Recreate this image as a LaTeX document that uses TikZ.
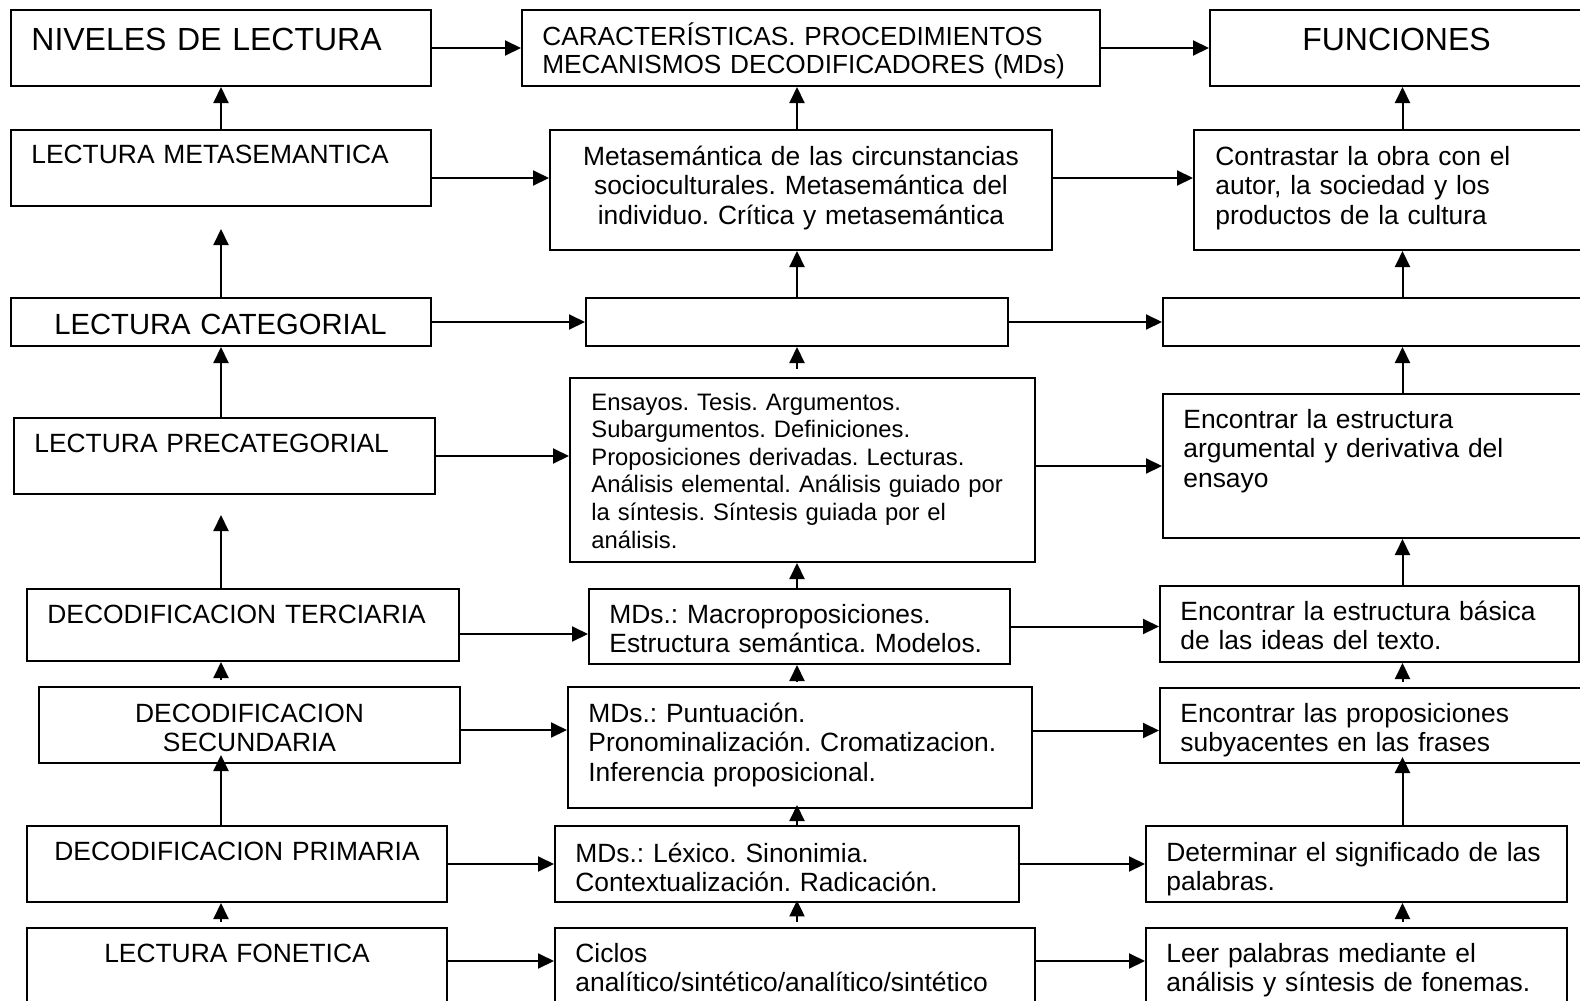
\documentclass[tikz,border=0pt]{standalone}
\usepackage{fontspec}
\setmainfont{Liberation Sans}
\usetikzlibrary{arrows.meta}
\frenchspacing

\begin{document}
\begin{tikzpicture}[x=0.5pt,y=-0.5pt,>={Triangle[length=8pt,width=7.5pt]},
	caja/.style={draw,line width=1pt,inner sep=0pt,anchor=north west},
	txt/.style={anchor=base west,inner sep=0pt,text width=10cm,align=left,font=\fontsize{13.2}{14.8}\selectfont},
	ctxt/.style={txt,anchor=base,align=center},
	flecha/.style={->,line width=1pt}]
	\useasboundingbox (0,0) rectangle (1580,1001);
	\clip (0,0) rectangle (1580,1001);
	\node[caja,minimum width=210pt,minimum height=38pt] (niveles) at (10,9) {};
	\node[txt,font=\fontsize{16}{18}\selectfont] (nivelestxt) at ([shift={(21,41)}]niveles.north west) {NIVELES DE LECTURA};
	\node[caja,minimum width=210pt,minimum height=38pt] (metasem) at (10,129) {};
	\node[txt] (metasemtxt) at ([shift={(21,34)}]metasem.north west) {LECTURA METASEMANTICA};
	\node[caja,minimum width=210pt,minimum height=24pt] (categ) at (10,297) {};
	\node[txt,font=\fontsize{14.6}{16}\selectfont] (categtxt) at ([shift={(44,37)}]categ.north west) {LECTURA CATEGORIAL};
	\node[caja,minimum width=210.5pt,minimum height=38pt] (precateg) at (13,417) {};
	\node[txt] (precategtxt) at ([shift={(21,35)}]precateg.north west) {LECTURA PRECATEGORIAL};
	\node[caja,minimum width=216pt,minimum height=36pt] (terciaria) at (26,588) {};
	\node[txt] (terciariatxt) at ([shift={(21,35)}]terciaria.north west) {DECODIFICACION TERCIARIA};
	\node[caja,minimum width=210.5pt,minimum height=38pt] (secundaria) at (38,686) {};
	\node[ctxt] (secundariatxt) at ([shift={(0,36)}]secundaria.north) {DECODIFICACION\\SECUNDARIA};
	\node[caja,minimum width=210pt,minimum height=38pt] (primaria) at (26,825) {};
	\node[txt] (primariatxt) at ([shift={(28,35)}]primaria.north west) {DECODIFICACION PRIMARIA};
	\node[caja,minimum width=210pt,minimum height=56pt] (fonetica) at (26,927) {};
	\node[ctxt] (foneticatxt) at ([shift={(0,35)}]fonetica.north) {LECTURA FONETICA};

	\node[caja,minimum width=289pt,minimum height=38pt] (carac) at (521,9) {};
	\node[txt,font=\fontsize{13.1}{14.2}\selectfont] (caractxt) at ([shift={(21,36)}]carac.north west) {CARACTERÍSTICAS. PROCEDIMIENTOS\\MECANISMOS DECODIFICADORES (MDs)};
	\node[caja,minimum width=251pt,minimum height=60pt] (mdmeta) at (549,129) {};
	\node[ctxt] (mdmetatxt) at ([shift={(0,36)}]mdmeta.north) {Metasemántica de las circunstancias\\socioculturales. Metasemántica del\\individuo. Crítica y metasemántica};
	\node[caja,minimum width=211pt,minimum height=24pt] (mdcateg) at (585,297) {};
	\node[caja,minimum width=232.5pt,minimum height=92pt] (mdprecat) at (569,377) {};
	\node[txt,font=\fontsize{11.9}{13.8}\selectfont] (mdprecattxt) at ([shift={(22,33)}]mdprecat.north west) {Ensayos. Tesis. Argumentos.\\Subargumentos. Definiciones.\\Proposiciones derivadas. Lecturas.\\Análisis elemental. Análisis guiado por\\la síntesis. Síntesis guiada por el\\análisis.};
	\node[caja,minimum width=210.5pt,minimum height=37.5pt] (mdterc) at (588,588) {};
	\node[txt] (mdterctxt) at ([shift={(21,35)}]mdterc.north west) {MDs.: Macroproposiciones.\\Estructura semántica. Modelos.};
	\node[caja,minimum width=232pt,minimum height=60.5pt] (mdsec) at (567,686) {};
	\node[txt] (mdsectxt) at ([shift={(21,36)}]mdsec.north west) {MDs.: Puntuación.\\Pronominalización. Cromatizacion.\\Inferencia proposicional.};
	\node[caja,minimum width=232pt,minimum height=38pt] (mdprim) at (554,825) {};
	\node[txt] (mdprimtxt) at ([shift={(21,37)}]mdprim.north west) {MDs.: Léxico. Sinonimia.\\Contextualización. Radicación.};
	\node[caja,minimum width=240pt,minimum height=56pt] (mdfon) at (554,927) {};
	\node[txt] (mdfontxt) at ([shift={(21,35)}]mdfon.north west) {Ciclos\\analítico/sintético/analítico/sintético};

	\node[caja,minimum width=192.5pt,minimum height=38pt] (funciones) at (1209,9) {};
	\node[ctxt,font=\fontsize{16}{18}\selectfont] (funcionestxt) at ([shift={(-6,41)}]funciones.north) {FUNCIONES};
	\node[caja,minimum width=205pt,minimum height=60pt] (fnmeta) at (1193,129) {};
	\node[txt] (fnmetatxt) at ([shift={(22,36)}]fnmeta.north west) {Contrastar la obra con el\\autor, la sociedad y los\\productos de la cultura};
	\node[caja,minimum width=220pt,minimum height=24pt] (fncateg) at (1162,297) {};
	\node[caja,minimum width=220pt,minimum height=72pt] (fnprecat) at (1162,393) {};
	\node[txt] (fnprecattxt) at ([shift={(21,35)}]fnprecat.north west) {Encontrar la estructura\\argumental y derivativa del\\ensayo};
	\node[caja,minimum width=209.5pt,minimum height=38pt] (fnterc) at (1159,585) {};
	\node[txt] (fnterctxt) at ([shift={(21,35)}]fnterc.north west) {Encontrar la estructura básica\\de las ideas del texto.};
	\node[caja,minimum width=221pt,minimum height=37.5pt] (fnsec) at (1159,687) {};
	\node[txt] (fnsectxt) at ([shift={(21,35)}]fnsec.north west) {Encontrar las proposiciones\\subyacentes en las frases};
	\node[caja,minimum width=210.5pt,minimum height=38pt] (fnprim) at (1145,825) {};
	\node[txt] (fnprimtxt) at ([shift={(21,36)}]fnprim.north west) {Determinar el significado de las\\palabras.};
	\node[caja,minimum width=210.5pt,minimum height=56pt] (fnfon) at (1145,927) {};
	\node[txt] (fnfontxt) at ([shift={(21,35)}]fnfon.north west) {Leer palabras mediante el\\análisis y síntesis de fonemas.};

	\draw[flecha] (metasem.north) -- (niveles.south);
	\draw[flecha,shorten >=11pt] (categ.north) -- (metasem.south);
	\draw[flecha] (precateg.north -| categ.south) -- (categ.south);
	\draw[flecha,shorten >=10pt] (terciaria.north -| categ.south) -- (precateg.south -| categ.south);
	\draw[flecha,shorten <=3pt] (secundaria.north -| categ.south) -- (terciaria.south -| categ.south);
	\draw[flecha,shorten >=-4.5pt] (primaria.north -| categ.south) -- (secundaria.south -| categ.south);
	\draw[flecha,shorten <=2.5pt] (fonetica.north -| categ.south) -- (primaria.south -| categ.south);

	\draw[flecha] (mdmeta.north -| mdcateg.south) -- (carac.south -| mdcateg.south);
	\draw[flecha] (mdcateg.north) -- (mdmeta.south -| mdcateg.south);
	\draw[flecha,shorten <=4pt] (mdprecat.north -| mdcateg.south) -- (mdcateg.south);
	\draw[flecha] (mdterc.north -| mdcateg.south) -- (mdprecat.south -| mdcateg.south);
	\draw[flecha,shorten <=2pt] (mdsec.north -| mdcateg.south) -- (mdterc.south -| mdcateg.south);
	\draw[flecha,shorten >=-2pt] (mdprim.north -| mdcateg.south) -- (mdsec.south -| mdcateg.south);
	\draw[flecha,shorten <=2.5pt,shorten >=-1.3pt] (mdfon.north -| mdcateg.south) -- (mdprim.south -| mdcateg.south);

	\draw[flecha] (fnmeta.north -| funciones.south) -- (funciones.south);
	\draw[flecha] (fncateg.north -| funciones.south) -- (fnmeta.south -| funciones.south);
	\draw[flecha] (fnprecat.north -| funciones.south) -- (fncateg.south -| funciones.south);
	\draw[flecha] (fnterc.north -| funciones.south) -- (fnprecat.south -| funciones.south);
	\draw[flecha,shorten <=2.5pt] (fnsec.north -| funciones.south) -- (fnterc.south -| funciones.south);
	\draw[flecha,shorten >=-3.5pt] (fnprim.north -| funciones.south) -- (fnsec.south -| funciones.south);
	\draw[flecha,shorten <=2.5pt] (fnfon.north -| funciones.south) -- (fnprim.south -| funciones.south);

	\draw[flecha] (niveles) -- (carac);
	\draw[flecha] (carac) -- (funciones);
	\draw[flecha] ([yshift=-5pt]metasem.east) -- ([yshift=-5pt]metasem.east -| mdmeta.west);
	\draw[flecha] ([yshift=6pt]mdmeta.east) -- ([yshift=6pt]mdmeta.east -| fnmeta.west);
	\draw[flecha] (categ) -- (mdcateg);
	\draw[flecha] (mdcateg) -- (fncateg);
	\draw[flecha] (precateg.east) -- (precateg.east -| mdprecat.west);
	\draw[flecha] ([yshift=2pt]mdprecat.east) -- ([yshift=2pt]mdprecat.east -| fnprecat.west);
	\draw[flecha] ([yshift=-4.5pt]terciaria.east) -- ([yshift=-4.5pt]terciaria.east -| mdterc.west);
	\draw[flecha] (mdterc.east) -- (mdterc.east -| fnterc.west);
	\draw[flecha] ([yshift=-2.5pt]secundaria.east) -- ([yshift=-2.5pt]secundaria.east -| mdsec.west);
	\draw[flecha] ([yshift=8.5pt]mdsec.east) -- ([yshift=8.5pt]mdsec.east -| fnsec.west);
	\draw[flecha] (primaria) -- (mdprim);
	\draw[flecha] (mdprim) -- (fnprim);
	\draw[flecha] ([yshift=-17pt]fonetica.north east) -- ([yshift=-17pt]mdfon.north west);
	\draw[flecha] ([yshift=-17pt]mdfon.north east) -- ([yshift=-17pt]fnfon.north west);
\end{tikzpicture}
\end{document}
